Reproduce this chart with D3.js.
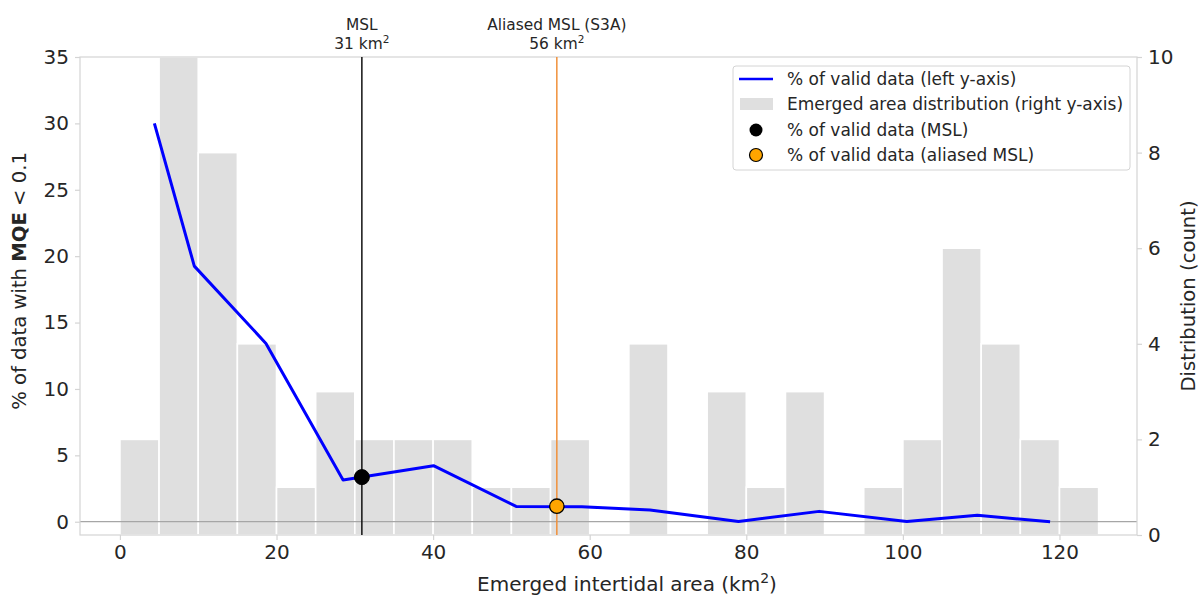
<!DOCTYPE html>
<html><head><meta charset="utf-8">
<script src="https://cdn.jsdelivr.net/npm/d3@7"></script>
<style>
body{margin:0;background:#fff;}
text{font-family:"DejaVu Sans",sans-serif;fill:#262626;}
</style></head>
<body><svg id="chart" width="1201" height="595"></svg>
<script>
// Histogram bins (km²) and counts (right axis)
const binStarts = [0,5,10,15,20,25,30,35,40,45,50,55,60,65,70,75,80,85,90,95,100,105,110,115,120];
const binCounts = [2,10,8,4,1,3,2,2,2,1,1,2,0,4,0,3,1,3,0,1,2,6,4,2,1];
const binWidth = 5;
// % of valid data line (left axis)
const lineX = [4.4,9.5,18.65,28.5,40.05,50.6,59.0,67.7,79.0,89.3,100.5,109.5,118.8];
const lineY = [30.0,19.25,13.43,3.15,4.22,1.15,1.12,0.88,0.02,0.78,0.02,0.48,0.0];
// reference markers
const mslX = 30.9, mslY = 3.36, mslLabel = "31";
const aliasX = 55.8, aliasY = 1.17, aliasLabel = "56";
const xTicks = [0,20,40,60,80,100,120];
const yLeftTicks = [0,5,10,15,20,25,30,35];
const yRightTicks = [0,2,4,6,8,10];
const legendLabels = ["% of valid data (left y-axis)","Emerged area distribution (right y-axis)","% of valid data (MSL)","% of valid data (aliased MSL)"];

const svg = d3.select("#chart");
const L=80, R=1137, T=57, B=535;
const x = d3.scaleLinear().domain([-5.1,129.9]).range([L,R]);
const yL = d3.scaleLinear().domain([-1,35]).range([B,T]);
const yR = d3.scaleLinear().domain([0,10]).range([B,T]);

// bars
svg.append("g").selectAll("rect").data(binStarts.map((s,i)=>({s,c:binCounts[i]})).filter(d=>d.c>0))
  .join("rect")
  .attr("x",d=>x(d.s)).attr("width",d=>x(d.s+binWidth)-x(d.s))
  .attr("y",d=>yR(d.c)).attr("height",d=>yR(0)-yR(d.c))
  .attr("fill","#dfdfdf").attr("stroke","#fff").attr("stroke-width",1.6);

// zero line
svg.append("line").attr("x1",L).attr("x2",R).attr("y1",yL(0)).attr("y2",yL(0))
  .attr("stroke","#a6a6a6").attr("stroke-width",1.2);

// spines
const spine="#d4d4d4";
svg.append("rect").attr("x",L).attr("y",T).attr("width",R-L).attr("height",B-T)
  .attr("fill","none").attr("stroke",spine).attr("stroke-width",1.2);

// vertical lines
svg.append("line").attr("x1",x(mslX)).attr("x2",x(mslX)).attr("y1",T).attr("y2",B)
  .attr("stroke","#111").attr("stroke-width",1.5);
svg.append("line").attr("x1",x(aliasX)).attr("x2",x(aliasX)).attr("y1",T).attr("y2",B)
  .attr("stroke","#f0903a").attr("stroke-width",1.5);

// blue line
svg.append("path").datum(lineX.map((v,i)=>[v,lineY[i]]))
  .attr("d",d3.line().x(d=>x(d[0])).y(d=>yL(d[1])))
  .attr("fill","none").attr("stroke","#0000ff").attr("stroke-width",3).attr("stroke-linejoin","round");

// markers
svg.append("circle").attr("cx",x(mslX)).attr("cy",yL(mslY)).attr("r",7.5).attr("fill","#000").attr("stroke","#000");
svg.append("circle").attr("cx",x(aliasX)).attr("cy",yL(aliasY)).attr("r",7.2).attr("fill","#ffa500").attr("stroke","#000").attr("stroke-width",1.3);

// axes
const fs = 20;
const xAxis = svg.append("g").attr("transform",`translate(0,${B})`).call(d3.axisBottom(x).tickValues(xTicks).tickSize(5).tickPadding(5));
const yAxisL = svg.append("g").attr("transform",`translate(${L},0)`).call(d3.axisLeft(yL).tickValues(yLeftTicks).tickSize(5).tickPadding(6));
const yAxisR = svg.append("g").attr("transform",`translate(${R},0)`).call(d3.axisRight(yR).tickValues(yRightTicks).tickSize(5).tickPadding(6));
[xAxis,yAxisL,yAxisR].forEach(g=>{
  g.select(".domain").remove();
  g.selectAll(".tick line").attr("stroke",spine).attr("stroke-width",1.2);
  g.selectAll(".tick text").attr("font-size",fs).attr("font-family","DejaVu Sans").attr("fill","#262626");
});

// axis labels
const xl = svg.append("text").attr("x",627).attr("y",591).attr("text-anchor","middle").attr("font-size",20);
xl.append("tspan").text("Emerged intertidal area (km");
xl.append("tspan").text("2").attr("font-size",14).attr("dy",-8);
xl.append("tspan").text(")").attr("dy",8);

const yl = svg.append("text").attr("transform","translate(26,281) rotate(-90)").attr("text-anchor","middle").attr("font-size",19.6);
yl.append("tspan").text("% of data with ");
yl.append("tspan").text("MQE").attr("font-weight","bold");
yl.append("tspan").text(" < 0.1");

svg.append("text").attr("transform","translate(1195,296) rotate(-90)").attr("text-anchor","middle").attr("font-size",19.6).text("Distribution (count)");

// annotations
function annot(xv,l1,l2){
  svg.append("text").attr("x",x(xv)).attr("y",30).attr("text-anchor","middle").attr("font-size",15.4).text(l1);
  const t = svg.append("text").attr("x",x(xv)).attr("y",49).attr("text-anchor","middle").attr("font-size",15.4);
  t.append("tspan").text(l2+" km");
  t.append("tspan").text("2").attr("font-size",10.5).attr("dy",-6);
}
annot(mslX,"MSL",mslLabel);
annot(aliasX,"Aliased MSL (S3A)",aliasLabel);

// legend
const lg = svg.append("g");
lg.append("rect").attr("x",733).attr("y",66).attr("width",397).attr("height",104).attr("rx",3)
  .attr("fill","#fff").attr("fill-opacity",0.85).attr("stroke","#d4d4d4");
const ly=[79,104,130,155];
lg.append("line").attr("x1",739).attr("x2",773).attr("y1",ly[0]).attr("y2",ly[0]).attr("stroke","#0000ff").attr("stroke-width",2.5);
lg.append("rect").attr("x",740).attr("y",ly[1]-6).attr("width",33).attr("height",12).attr("fill","#dfdfdf");
lg.append("circle").attr("cx",756).attr("cy",ly[2]).attr("r",6.5).attr("fill","#000");
lg.append("circle").attr("cx",756).attr("cy",ly[3]).attr("r",6.5).attr("fill","#ffa500").attr("stroke","#000").attr("stroke-width",1.2);
legendLabels.forEach((t,i)=>{
  lg.append("text").attr("x",787).attr("y",ly[i]).attr("dy","0.35em").attr("font-size",17).text(t);
});
</script></body></html>
